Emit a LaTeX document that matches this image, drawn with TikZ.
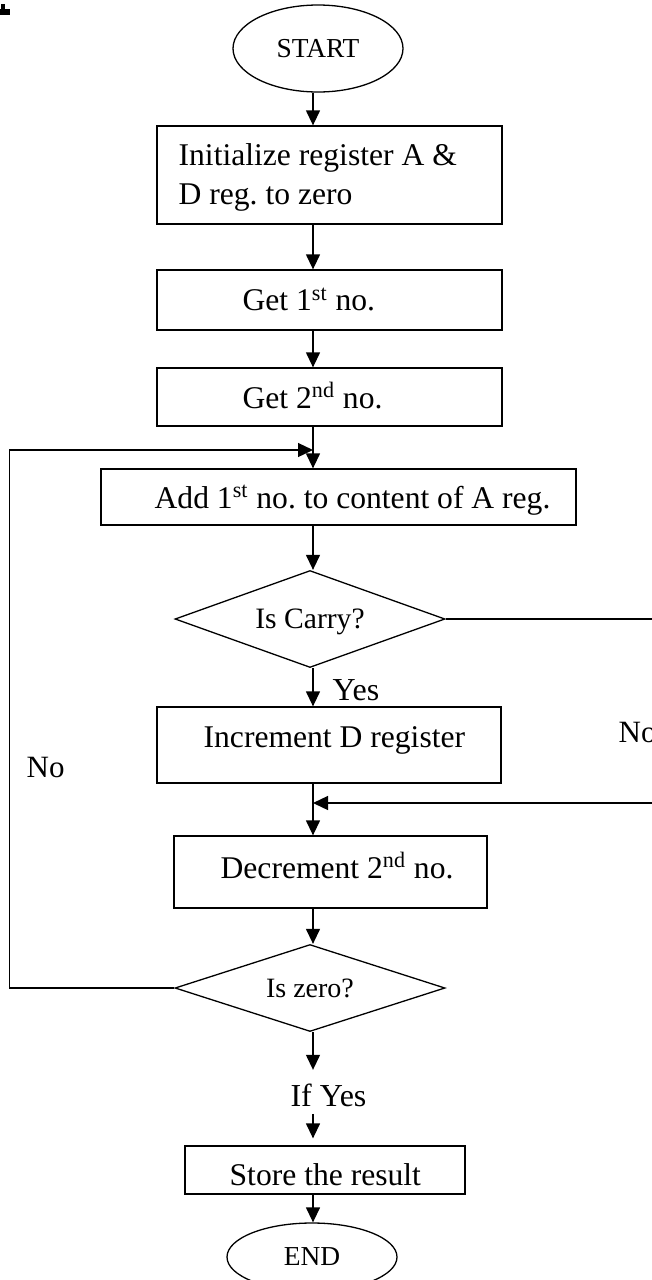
\documentclass[tikz,border=0pt]{standalone}
\usepackage{fontspec}
\setmainfont{Liberation Serif}
\usetikzlibrary{shapes.geometric,arrows.meta}
\frenchspacing

\tikzset{
  procbox/.style={draw, rectangle, inner sep=0pt},
  boxtext/.style={anchor=base west, inner sep=0pt, align=left, font=\fontsize{15.8}{19.5}\selectfont},
  decision/.style={draw, diamond, aspect=2.8, inner sep=0pt, text depth=0pt, font=\fontsize{14}{16}\selectfont},
  terminal/.style={draw, ellipse, inner sep=0pt, font=\fontsize{13.7}{15}\selectfont},
  tag/.style={anchor=base west, inner sep=0pt, font=\fontsize{16}{18}\selectfont},
}

\begin{document}
\begin{tikzpicture}[x=0.5pt, y=-0.5pt, line width=0.65pt, >={Triangle[length=7.5pt,width=7pt]}]
    \useasboundingbox (0,0) rectangle (652,1280) ;
    \fill (1,4) rectangle (5,10) ;
    \fill (0,9) rectangle (10,15) ;
    \coordinate (spine) at (313,0) ;

    % shapes
    \node [terminal, minimum width=85pt, minimum height=43.5pt] (start) at (318,48.5) {START} ;
    \node [procbox, minimum width=172.5pt, minimum height=49pt] (init) at (329.5,175) {} ;
    \node [procbox, minimum width=172.5pt, minimum height=30pt] (get1) at (329.5,300) {} ;
    \node [procbox, minimum width=172.5pt, minimum height=29pt] (get2) at (329.5,397) {} ;
    \node [procbox, minimum width=237.5pt, minimum height=28pt] (add) at (338.5,497) {} ;
    \node [decision, minimum width=135pt, minimum height=48.5pt, font=\fontsize{14.8}{16}\selectfont] (carry) at (310,619) {Is Carry?} ;
    \node [procbox, minimum width=172pt, minimum height=38pt] (inc) at (329,745) {} ;
    \node [procbox, minimum width=156.5pt, minimum height=36pt] (dec) at (330.5,872) {} ;
    \node [decision, minimum width=135pt, minimum height=43.5pt] (zero) at (310,988) {Is zero?} ;
    \node [procbox, minimum width=140pt, minimum height=24pt] (store) at (325,1170) {} ;
    \node [terminal, minimum width=85pt, minimum height=34pt] (end) at (312,1257) {END} ;

    % box texts
    \node [boxtext] (init-t) at (178,204) {Initialize register A \&\\D reg. to zero} ;
    \node [boxtext] (get1-t) at (242,310.5) {Get 1\textsuperscript{st} no.} ;
    \node [boxtext] (get2-t) at (242,408) {Get 2\textsuperscript{nd} no.} ;
    \node [boxtext] (add-t) at (154,508) {Add 1\textsuperscript{st} no. to content of A reg.} ;
    \node [boxtext] (inc-t) at (203,747) {Increment D register} ;
    \node [boxtext] (dec-t) at (220,878) {Decrement 2\textsuperscript{nd} no.} ;
    \node [boxtext] (store-t) at (229,1185) {Store the result} ;

    % labels
    \node [tag] (yes) at (332,700) {Yes} ;
    \node [tag, font=\fontsize{15.5}{18}\selectfont] (no-r) at (618,742) {No} ;
    \node [tag, font=\fontsize{15.5}{18}\selectfont] (no-l) at (26,777) {No} ;
    \node [tag, anchor=base, inner ysep=3.5pt] (ifyes) at (328.5,1106) {If Yes} ;

    % connectors
    \coordinate (loopin) at (313,450) ;
    \coordinate (merge) at (313,803) ;
    \draw [->] (start.south -| spine) -- (init.north -| spine) ;
    \draw [->] (init.south -| spine) -- (get1.north -| spine) ;
    \draw [->] (get1.south -| spine) -- (get2.north -| spine) ;
    \draw [->] (get2.south -| spine) -- (add.north -| spine) ;
    \draw [->] (add.south -| spine) -- (carry.north -| spine) ;
    \draw [->] (carry.south -| spine) -- (inc.north -| spine) ;
    \draw [->] (carry.east) -- ++(230,0) |- (merge) ;
    \draw [->] (inc.south -| spine) -- (dec.north -| spine) ;
    \draw [->] (dec.south -| spine) -- (zero.north -| spine) ;
    \draw [->] (zero.west) -- ++(-165,0) |- (loopin) ;
    \draw [->, shorten >=3pt] (zero.south -| spine) -- (ifyes.north -| spine) ;
    \draw [->, shorten >=3.5pt] (ifyes.south -| spine) -- (store.north -| spine) ;
    \draw [->] (store.south -| spine) -- (end.north -| spine) ;
\end{tikzpicture}
\end{document}
